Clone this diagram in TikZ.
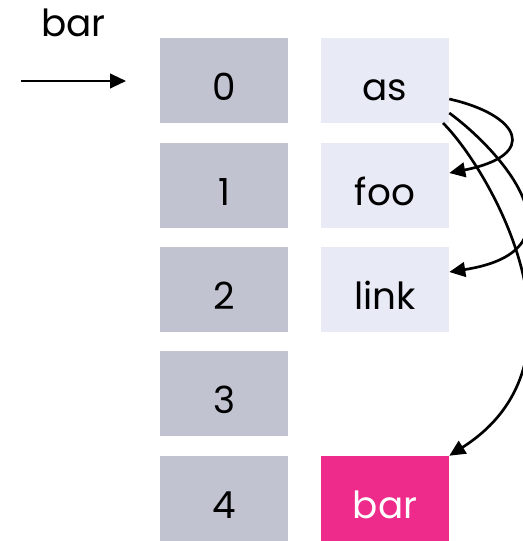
\documentclass[tikz,border=0pt]{standalone}
\usepackage{fontspec}
\setmainfont{Poppins}
\usetikzlibrary{arrows.meta}
\definecolor{slotgray}{HTML}{C1C3D1}
\definecolor{cellpale}{HTML}{E8EAF6}
\definecolor{cellpink}{HTML}{EE2A8A}
\tikzset{
  label text/.style={font=\fontsize{28}{32}\selectfont, inner sep=0pt, anchor=base},
  cell/.style={rectangle, inner sep=0pt, minimum width=96pt, minimum height=63.75pt},
  slot/.style={cell, fill=slotgray},
  entry/.style={cell, fill=cellpale},
  hit/.style={cell, fill=cellpink},
  ptr/.style={line width=2pt, -{Triangle[length=12pt,width=11pt]}}
}
\begin{document}
\begin{tikzpicture}[x=0.75pt,y=-0.75pt]
\useasboundingbox (0,0) rectangle (522,541);
% index column
\node[slot] (s0) at (224,80.5) {};
\node[slot] (s1) at (224,185.5) {};
\node[slot] (s2) at (224,289.5) {};
\node[slot] (s3) at (224,393.5) {};
\node[slot] (s4) at (224,498.5) {};
\node[label text] (s0t) at (224,100.5) {0};
\node[label text] (s1t) at (224,205.5) {1};
\node[label text] (s2t) at (224,309.5) {2};
\node[label text] (s3t) at (224,413.5) {3};
\node[label text] (s4t) at (224,518.5) {4};
% value column
\node[entry] (vas) at (385,80.5) {};
\node[entry] (vfoo) at (385,185.5) {};
\node[entry] (vlink) at (385,289.5) {};
\node[hit] (vbar) at (385,498.5) {};
\node[label text] (vast) at (385,100.5) {as};
\node[label text] (vfoot) at (385,205.5) {foo};
\node[label text] (vlinkt) at (385,309.5) {link};
\node[label text, text=white] (vbart) at (385,518.5) {bar};
% incoming pointer
\node[label text] (lbl) at (73.5,37) {bar};
\coordinate (src) at (21,81);
\coordinate (dst) at (126,81);
\draw[ptr, line width=1.6pt] (src) -- (dst);
% links out of "as"
\draw[ptr] (vas.east |- 0,99) .. controls (520,115) and (540,155) .. (vfoo.east |- 0,173);
\draw[ptr] (vas.east |- 0,113) .. controls (500,150) and (590,250) .. (vlink.east |- 0,272);
\draw[ptr] (443,123) .. controls (490,170) and (600,360) .. (vbar.north east);
\end{tikzpicture}
\end{document}
